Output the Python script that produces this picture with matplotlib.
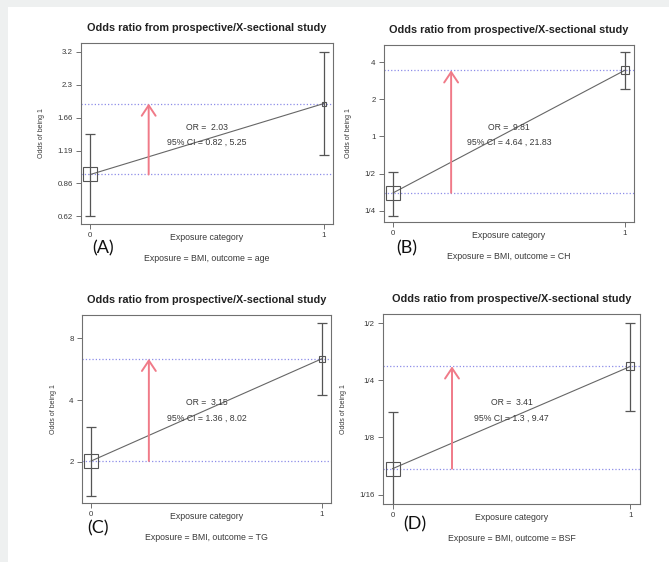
import matplotlib
matplotlib.use("Agg")
import matplotlib.pyplot as plt
from matplotlib.patches import Rectangle

plt.rcParams['font.family'] = ['Liberation Sans', 'DejaVu Sans']

# the data
panel_tags = ['(A)', '(B)', '(C)', '(D)']
outcomes = ['age', 'CH', 'TG', 'BSF']
odds_0 = [0.94, 0.35, 2.02, 0.0855]
odds_1 = [1.91, 3.43, 6.36, 0.296]
ci0_low = [0.62, 0.228, 1.37, 0.0433]
ci0_high = [1.41, 0.519, 2.96, 0.17]
ci1_low = [1.14, 2.41, 4.23, 0.173]
ci1_high = [3.2, 4.83, 9.56, 0.5]
or_labels = ['2.03', '9.81', '3.15', '3.41']
ci_labels = ['0.82 , 5.25', '4.64 , 21.83', '1.36 , 8.02', '1.3 , 9.47']
ytick_values = [[0.62, 0.86, 1.19, 1.66, 2.3, 3.2],
                [0.25, 0.5, 1, 2, 4],
                [2, 4, 8],
                [1/16, 1/8, 1/4, 1/2]]
ytick_labels = [['0.62', '0.86', '1.19', '1.66', '2.3', '3.2'],
                ['1/4', '1/2', '1', '2', '4'],
                ['2', '4', '8'],
                ['1/16', '1/8', '1/4', '1/2']]

# layout (pixels) and styling
W, H = 669, 562
boxes = [(81, 43, 333, 224), (384, 45, 634, 222), (82, 315, 331, 503), (383, 314, 640, 504)]
ylims = [(0.573, 3.5), (0.203, 5.5), (1.26, 10.4), (0.0557, 0.559)]
tag_pos = [(103, 248), (407, 248), (98, 528), (415, 524)]
size_1 = [4, 8, 6, 8]

fig = plt.figure(figsize=(W / 100, H / 100), dpi=100)
fig.patch.set_facecolor('#eef0f0')
fig.patches.append(Rectangle((8 / W, 0), 1, 1 - 7 / H, transform=fig.transFigure,
                             facecolor='white', edgecolor='none', zorder=-5))

grey = '#707070'
txt = '#3a3a3a'
for i in range(4):
    x0, y0, x1, y1 = boxes[i]
    ax = fig.add_axes([x0 / W, 1 - y1 / H, (x1 - x0) / W, (y1 - y0) / H])
    ax.set_facecolor('none')
    ax.set_yscale('log')
    ax.set_xlim(-0.04, 1.04)
    ax.set_ylim(*ylims[i])

    # reference lines and the arrow
    ax.axhline(odds_0[i], color='#8c8ce8', ls=':', lw=0.9)
    ax.axhline(odds_1[i], color='#8c8ce8', ls=':', lw=0.9)
    ax.annotate('', xy=(0.25, odds_1[i]), xytext=(0.25, odds_0[i]),
                arrowprops=dict(arrowstyle='->,head_length=0.75,head_width=0.5',
                                color='#f07a88', lw=1.4, shrinkA=0, shrinkB=0,
                                mutation_scale=10))

    # line joining the two groups
    ax.plot([0, 1], [odds_0[i], odds_1[i]], color='#666666', lw=0.8)

    # error bars
    ax.errorbar([0], [odds_0[i]],
                yerr=[[odds_0[i] - ci0_low[i]], [ci0_high[i] - odds_0[i]]],
                fmt='none', ecolor='#555555', elinewidth=0.9, capsize=3.3, capthick=0.9)
    ax.errorbar([1], [odds_1[i]],
                yerr=[[odds_1[i] - ci1_low[i]], [ci1_high[i] - odds_1[i]]],
                fmt='none', ecolor='#555555', elinewidth=0.9, capsize=3.3, capthick=0.9)
    ax.plot([0], [odds_0[i]], 's', ms=9.4, mfc='none', mec='#555555', mew=0.8)
    ax.plot([1], [odds_1[i]], 's', ms=size_1[i] * 0.72, mfc='none', mec='#555555', mew=0.8)

    ax.text(0.5, 0.535, 'OR =  ' + or_labels[i], transform=ax.transAxes,
            ha='center', va='center', fontsize=6.2, color=txt)
    ax.text(0.5, 0.45, '95% CI = ' + ci_labels[i], transform=ax.transAxes,
            ha='center', va='center', fontsize=6.3, color=txt)

    ax.set_yticks(ytick_values[i])
    ax.set_yticklabels(ytick_labels[i])
    ax.minorticks_off()
    ax.set_xticks([0, 1])
    ax.set_xticklabels(['0', '1'])
    ax.tick_params(length=3.5, width=0.7, color=grey, labelsize=5.7,
                   labelcolor=txt, pad=2.5)
    for s in ax.spines.values():
        s.set_color(grey)
        s.set_linewidth(0.8)

    ax.set_ylabel('Odds of being 1', fontsize=5.0, color=txt, labelpad=9)
    ax.annotate('Odds ratio from prospective/X-sectional study', xy=(0.5, 1),
                xycoords='axes fraction', xytext=(0, 10.5), textcoords='offset points',
                ha='center', va='center', fontsize=7.8, fontweight='bold', color='#222222')
    ax.annotate('Exposure category', xy=(0.5, 0), xycoords='axes fraction',
                xytext=(0, -10), textcoords='offset points',
                ha='center', va='center', fontsize=6.3, color=txt)
    ax.annotate('Exposure = BMI, outcome = ' + outcomes[i], xy=(0.5, 0),
                xycoords='axes fraction', xytext=(0, -24.5), textcoords='offset points',
                ha='center', va='center', fontsize=6.3, color=txt)

    tx, ty = tag_pos[i]
    fig.text(tx / W, 1 - ty / H, panel_tags[i], ha='center', va='center',
             fontsize=13, family=['Lato', 'DejaVu Sans'], color='#111111')

fig.savefig('out.png', dpi=100, facecolor=fig.get_facecolor())
